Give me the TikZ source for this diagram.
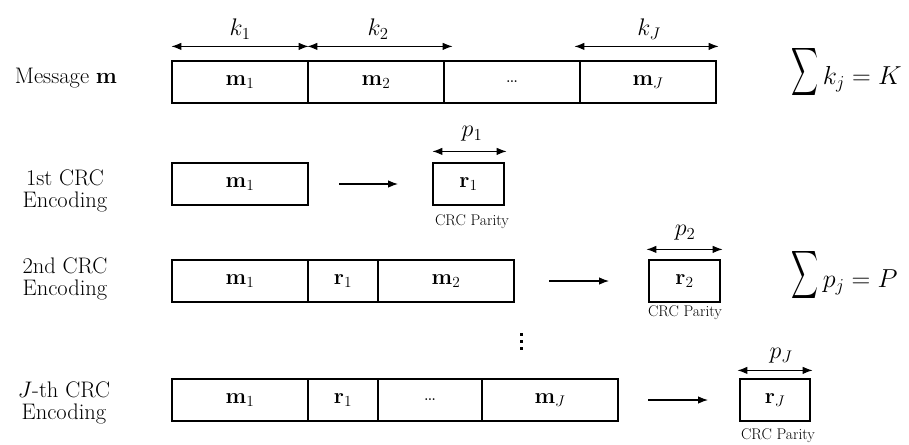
\RequirePackage{fix-cm}
\documentclass[tikz,border=0pt]{standalone}
\usepackage{exscale}
\usepackage{graphicx}
\usetikzlibrary{arrows.meta}
\begin{document}
\begin{tikzpicture}[x=1pt,y=-1pt,
  cell/.style={draw=black,line width=1.2pt,minimum height=42pt,inner sep=0pt,
    font=\fontsize{22}{26}\selectfont},
  rowlab/.style={align=center,font=\fontsize{22.5}{22}\selectfont},
  dimlab/.style={font=\fontsize{24}{28}\selectfont},
  parlab/.style={font=\fontsize{15.5}{17}\selectfont},
  dimarrow/.style={line width=1.1pt,{Latex[length=10pt,width=7.5pt]}-{Latex[length=10pt,width=7.5pt]}},
  flow/.style={line width=1.1pt,-{Latex[length=10pt,width=7.5pt]}},
  sumlab/.style={anchor=west,font=\fontsize{26}{30}\selectfont}
]
\useasboundingbox (0,0) rectangle (909,444);
\newcommand{\bigsigma}{\raisebox{4pt}{\scalebox{0.75}[1.35]{$\displaystyle\sum$}}\,}

% ---------- Row 1: message ----------
\node[rowlab] (lab0) at (66,78) {Message $\mathbf{m}$};
\node[cell,minimum width=136pt] (a1) at (240,82) {$\mathbf{m}_1$};
\node[cell,minimum width=136pt] (a2) at (376,82) {$\mathbf{m}_2$};
\node[cell,minimum width=136pt] (a3) at (512,82) {\dots};
\node[cell,minimum width=136pt] (a4) at (648,82) {$\mathbf{m}_J$};
\draw[dimarrow] ([yshift=14pt]a1.north west) -- ([yshift=14pt]a1.north east);
\draw[dimarrow] ([yshift=14pt]a2.north west) -- ([yshift=14pt,xshift=8pt]a2.north east);
\draw[dimarrow] ([yshift=14pt,xshift=-5pt]a4.north west) -- ([yshift=14pt,xshift=2pt]a4.north east);
\node[dimlab] (k1) at (240,29) {$k_1$};
\node[dimlab] (k2) at (378,29) {$k_2$};
\node[dimlab] (kJ) at (649,29) {$k_J$};
\node[sumlab] (sumk) at (788,72) {$\bigsigma k_j = K$};

% ---------- Row 2: 1st CRC ----------
\node[rowlab] (lab1) at (65,191) {1st CRC\\Encoding};
\node[cell,minimum width=136pt] (b1) at (240,184) {$\mathbf{m}_1$};
\coordinate (b1s) at (339,184);
\coordinate (b1e) at (398,184);
\draw[flow] (b1s) -- (b1e);
\node[cell,minimum width=71pt] (r1) at (468.5,184) {$\mathbf{r}_1$};
\draw[dimarrow] ([yshift=11pt]r1.north west) -- ([yshift=11pt,xshift=2pt]r1.north east);
\node[dimlab] (p1) at (472,134) {$p_1$};
\node[parlab] (cp1) at (472,222) {CRC Parity};

% ---------- Row 3: 2nd CRC ----------
\node[rowlab] (lab2) at (65,279) {2nd CRC\\Encoding};
\node[cell,minimum width=136pt] (c1) at (240,281) {$\mathbf{m}_1$};
\node[cell,minimum width=70pt] (c2) at (343,281) {$\mathbf{r}_1$};
\node[cell,minimum width=136pt] (c3) at (446,281) {$\mathbf{m}_2$};
\coordinate (c3s) at (549,281);
\coordinate (c3e) at (609,281);
\draw[flow] (c3s) -- (c3e);
\node[cell,minimum width=71pt] (r2) at (684.5,281) {$\mathbf{r}_2$};
\draw[dimarrow] ([yshift=10pt,xshift=-2pt]r2.north west) -- ([yshift=10pt,xshift=2pt]r2.north east);
\node[dimlab] (p2) at (685,233) {$p_2$};
\node[parlab] (cp2) at (685,313) {CRC Parity};
\node[sumlab] (sump) at (788,275) {$\bigsigma p_j = P$};

% vertical dots
\fill (519.5,332.5) rectangle +(3,3);
\fill (519.5,339.5) rectangle +(3,3);
\fill (519.5,346.5) rectangle +(3,3);

% ---------- Row 4: J-th CRC ----------
\node[rowlab] (lab3) at (64,403) {$J$-th CRC\\Encoding};
\node[cell,minimum width=136pt] (d1) at (240,400) {$\mathbf{m}_1$};
\node[cell,minimum width=70pt] (d2) at (343,400) {$\mathbf{r}_1$};
\node[cell,minimum width=104pt] (d3) at (430,400) {\dots};
\node[cell,minimum width=136pt] (d4) at (550,400) {$\mathbf{m}_J$};
\coordinate (d4s) at (648,400);
\coordinate (d4e) at (708,400);
\draw[flow] (d4s) -- (d4e);
\node[cell,minimum width=70pt] (rJ) at (775,400) {$\mathbf{r}_J$};
\draw[dimarrow] ([yshift=8pt,xshift=-2pt]rJ.north west) -- ([yshift=8pt,xshift=2pt]rJ.north east);
\node[dimlab] (pJ) at (781,356) {$p_J$};
\node[parlab] (cpJ) at (778,436) {CRC Parity};
\end{tikzpicture}
\end{document}
